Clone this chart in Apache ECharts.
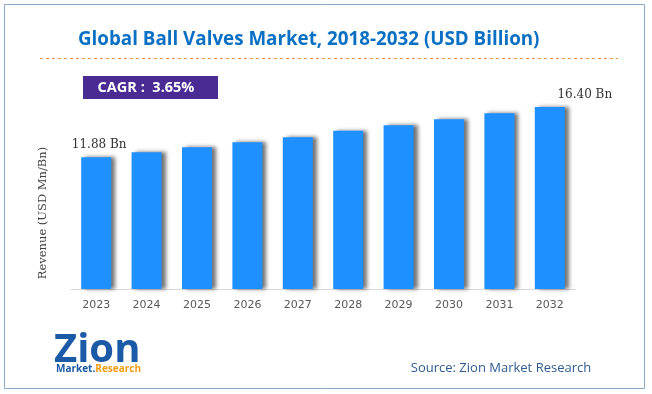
<!DOCTYPE html>
<html>
<head>
<meta charset="utf-8">
<script src="https://cdn.jsdelivr.net/npm/echarts@6/dist/echarts.min.js"></script>
<style>
html,body{margin:0;padding:0;background:#fff;}
#c{width:652px;height:394px;}
</style>
</head>
<body>
<div id="c"></div>
<script>
var categories = ['2023','2024','2025','2026','2027','2028','2029','2030','2031','2032'];
var revenue = [11.88, 12.33, 12.78, 13.23, 13.68, 14.25, 14.76, 15.30, 15.84, 16.40];
var labelledIndex = [0, 9];
var titleText = 'Global Ball Valves Market, 2018-2032 (USD Billion)';
var cagrText = 'CAGR :  3.65%';
var sourceText = 'Source: Zion Market Research';
var yName = 'Revenue (USD Mn/Bn)';

var chart = echarts.init(document.getElementById('c'), null, {renderer:'canvas'});

var seriesData = revenue.map(function(v, i){
  var item = {value: v};
  if (labelledIndex.indexOf(i) >= 0) {
    item.label = {
      show: true,
      position: 'top',
      distance: 6,
      offset: i === 9 ? [35, 0] : [3, 0],
      formatter: function(p){ return p.value.toFixed(2) + ' Bn'; },
      fontFamily: 'DejaVu Serif',
      fontSize: 12,
      color: '#333'
    };
  }
  return item;
});

chart.setOption({
  animation: false,
  backgroundColor: '#fff',
  title: {
    text: titleText,
    left: 73,
    top: 25,
    textStyle: {fontFamily: 'Open Sans', fontWeight: 'bold', fontSize: 18.8, color: '#0a70c4'}
  },
  grid: {left: 71, right: 77, top: 67, bottom: 105},
  xAxis: {
    type: 'category',
    data: categories,
    axisLine: {lineStyle: {color: '#d9d9d9', width: 1}},
    axisTick: {show: false},
    axisLabel: {color: '#595959', fontFamily: 'DejaVu Sans', fontSize: 11, margin: 11}
  },
  yAxis: {
    type: 'value',
    min: 0,
    max: 20,
    axisLine: {show: false},
    axisTick: {show: false},
    axisLabel: {show: false},
    splitLine: {show: false}
  },
  series: [{
    type: 'bar',
    data: seriesData,
    barWidth: 30,
    itemStyle: {
      color: '#1e90ff',
      shadowColor: 'rgba(0,0,0,0.55)',
      shadowBlur: 4,
      shadowOffsetX: 4,
      shadowOffsetY: 0
    }
  }],
  graphic: [
    {type: 'rect', shape: {x: 4.5, y: 4.5, width: 640, height: 384}, style: {fill: 'none', stroke: '#8eaacb', lineWidth: 1}, silent: true, z: -1},
    {type: 'line', shape: {x1: 40, y1: 58.5, x2: 618, y2: 58.5}, style: {stroke: '#f79646', lineWidth: 1, lineDash: [3, 3]}},
    {type: 'text', x: 43, y: 213, rotation: Math.PI / 2, style: {text: yName, fill: '#404040', font: '11.5px "DejaVu Serif"', align: 'center', verticalAlign: 'middle'}},
    {type: 'rect', shape: {x: 83, y: 76, width: 135, height: 23}, style: {fill: '#4a2a93'}},
    {type: 'text', x: 146, y: 87.5, style: {text: cagrText, fill: '#fff', font: 'bold 14.5px "Open Sans"', align: 'center', verticalAlign: 'middle'}},
    {type: 'text', x: 501, y: 368, style: {text: sourceText, fill: '#2e5c91', font: '13px "Open Sans"', align: 'center', verticalAlign: 'middle'}},
    {type: 'text', x: 54, y: 351, style: {text: 'Zion', fill: '#1b5aa6', font: 'bold 40px "Open Sans"', align: 'left', verticalAlign: 'middle'}},
    {type: 'text', x: 56, y: 369, style: {rich: {a: {fill: '#1b5aa6', font: 'bold 10px "Open Sans"'}, b: {fill: '#f39c12', font: 'bold 10px "Open Sans"'}}, text: '{a|Market.}{b|Research}', align: 'left', verticalAlign: 'middle'}}
  ]
});
</script>
</body>
</html>
